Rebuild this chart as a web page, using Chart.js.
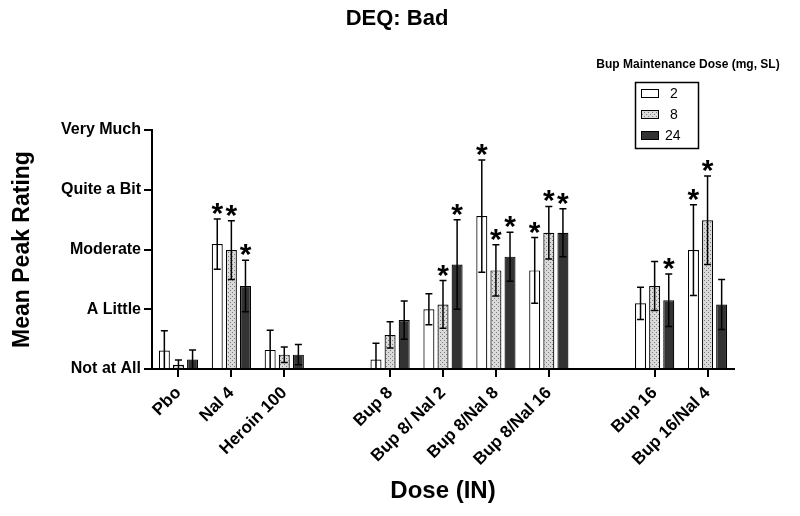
<!DOCTYPE html>
<html lang="en">
<head>
  <meta charset="UTF-8" />
  <title>DEQ: Bad</title>
  <script src="https://cdn.jsdelivr.net/npm/chart.js"></script>
  <style>
    html, body { margin: 0; padding: 0; background: #fff; }
    #wrap { width: 800px; height: 516px; }
  </style>
</head>
<body>
<div id="wrap"><canvas id="chartCanvas" width="800" height="516"></canvas></div>

<script>
  // x categories (blank slots are the gaps between dose groups)
  const categories = ['Pbo', 'Nal 4', 'Heroin 100', '', 'Bup 8', 'Bup 8/ Nal 2', 'Bup 8/Nal 8', 'Bup 8/Nal 16', '', 'Bup 16', 'Bup 16/Nal 4'];
  const yTickLabels = ['Not at All', 'A Little', 'Moderate', 'Quite a Bit', 'Very Much'];
  const seriesNames = ['2', '8', '24'];

  // mean peak ratings per maintenance dose
  const mean2  = [0.31, 2.09, 0.32, null, 0.16, 1.00, 2.56, 1.65, null, 1.10, 1.99];
  const mean8  = [0.07, 1.99, 0.24, null, 0.57, 1.08, 1.65, 2.28, null, 1.39, 2.49];
  const mean24 = [0.16, 1.39, 0.24, null, 0.82, 1.75, 1.88, 2.28, null, 1.15, 1.08];

  // standard errors
  const sem2  = [0.33, 0.42, 0.33, null, 0.27, 0.26, 0.94, 0.55, null, 0.27, 0.76];
  const sem8  = [0.08, 0.49, 0.13, null, 0.22, 0.40, 0.43, 0.44, null, 0.41, 0.74];
  const sem24 = [0.16, 0.43, 0.17, null, 0.32, 0.75, 0.41, 0.40, null, 0.44, 0.42];

  // significance markers (*)
  const sig2  = [0, 1, 0, 0, 0, 0, 1, 1, 0, 0, 1];
  const sig8  = [0, 1, 0, 0, 0, 1, 1, 1, 0, 0, 1];
  const sig24 = [0, 1, 0, 0, 0, 1, 1, 1, 0, 1, 0];

  const FONT = 'Arial, "Liberation Sans", sans-serif';

  function dotPattern() {
    const c = document.createElement('canvas');
    c.width = 4; c.height = 4;
    const g = c.getContext('2d');
    g.fillStyle = '#dadada';
    g.fillRect(0, 0, 4, 4);
    g.fillStyle = '#7a7a7a';
    g.fillRect(0, 0, 1, 1);
    g.fillRect(2, 2, 1, 1);
    return g.createPattern(c, 'repeat');
  }
  const dotted = dotPattern();

  const fills = ['#ffffff', dotted, '#333333'];
  const sems = [sem2, sem8, sem24];
  const sigs = [sig2, sig8, sig24];

  const errorBars = {
    id: 'errorBars',
    afterDatasetsDraw(chart) {
      const ctx = chart.ctx;
      const y = chart.scales.y;
      ctx.save();
      ctx.strokeStyle = '#000';
      ctx.fillStyle = '#000';
      ctx.lineWidth = 1.5;
      chart.data.datasets.forEach((ds, i) => {
        const meta = chart.getDatasetMeta(i);
        meta.data.forEach((bar, j) => {
          const v = ds.data[j];
          if (v === null) return;
          const e = sems[i][j];
          const top = y.getPixelForValue(v + e);
          const bot = y.getPixelForValue(Math.max(0, v - e));
          ctx.beginPath();
          ctx.moveTo(bar.x, top); ctx.lineTo(bar.x, bot);
          ctx.moveTo(bar.x - 3.5, top); ctx.lineTo(bar.x + 3.5, top);
          ctx.moveTo(bar.x - 3.5, bot); ctx.lineTo(bar.x + 3.5, bot);
          ctx.stroke();
          if (sigs[i][j]) {
            ctx.font = 'bold 30px ' + FONT;
            ctx.textAlign = 'center';
            ctx.textBaseline = 'alphabetic';
            ctx.fillText('*', bar.x, top + 4);
          }
        });
      });
      ctx.restore();
    }
  };

  const labelsAndLegend = {
    id: 'labelsAndLegend',
    afterDraw(chart) {
      const ctx = chart.ctx;
      const area = chart.chartArea;
      ctx.save();
      ctx.fillStyle = '#000';
      ctx.textAlign = 'center';
      ctx.textBaseline = 'middle';

      ctx.font = 'bold 22px ' + FONT;
      ctx.fillText('DEQ: Bad', 397, 19);

      ctx.font = 'bold 24px ' + FONT;
      ctx.fillText('Dose (IN)', (area.left + area.right) / 2, 491);

      ctx.save();
      ctx.translate(23, (area.top + area.bottom) / 2);
      ctx.rotate(-Math.PI / 2);
      ctx.font = 'bold 23px ' + FONT;
      ctx.fillText('Mean Peak Rating', 0, 0);
      ctx.restore();

      // legend
      ctx.font = 'bold 12px ' + FONT;
      ctx.fillText('Bup Maintenance Dose (mg, SL)', 688, 65);
      ctx.lineWidth = 1.5;
      ctx.strokeStyle = '#000';
      ctx.strokeRect(635.5, 82.5, 63, 66);
      ctx.font = '14px ' + FONT;
      ctx.textAlign = 'left';
      seriesNames.forEach((name, i) => {
        const yy = 89 + i * 21;
        ctx.fillStyle = fills[i];
        ctx.fillRect(641, yy, 18, 9);
        ctx.lineWidth = 1;
        ctx.strokeRect(641.5, yy + 0.5, 17, 8);
        ctx.fillStyle = '#000';
        ctx.fillText(name, name.length > 1 ? 665 : 670, yy + 5);
      });
      ctx.restore();
    }
  };

  const ctx = document.getElementById('chartCanvas').getContext('2d');

  new Chart(ctx, {
    type: 'bar',
    data: {
      labels: categories,
      datasets: [mean2, mean8, mean24].map((d, i) => ({
        label: seriesNames[i],
        data: d,
        backgroundColor: fills[i],
        borderColor: '#000',
        borderWidth: 1.2,
        categoryPercentage: 0.8,
        barPercentage: 0.78
      }))
    },
    options: {
      responsive: false,
      animation: false,
      layout: { padding: { top: 130, right: 66, left: 0, bottom: 0 } },
      plugins: {
        legend: { display: false },
        title: { display: false },
        tooltip: { enabled: false }
      },
      scales: {
        x: {
          grid: {
            offset: false,
            drawOnChartArea: false,
            tickLength: 8,
            lineWidth: 2,
            tickColor: c => categories[c.index] ? '#000' : 'rgba(0,0,0,0)'
          },
          border: { color: '#000', width: 2 },
          ticks: {
            minRotation: 45,
            maxRotation: 45,
            autoSkip: false,
            padding: 6,
            color: '#000',
            font: { family: FONT, size: 17, weight: 'bold' }
          },
          afterFit: s => { s.height = 147; }
        },
        y: {
          min: 0,
          max: 4,
          grid: { drawOnChartArea: false, tickLength: 8, lineWidth: 2, tickColor: '#000' },
          border: { color: '#000', width: 2 },
          ticks: {
            stepSize: 1,
            padding: 3,
            color: '#000',
            font: { family: FONT, size: 16, weight: 'bold' },
            callback: v => yTickLabels[v]
          },
          afterFit: s => { s.width = 152; }
        }
      }
    },
    plugins: [errorBars, labelsAndLegend]
  });
</script>
</body>
</html>
